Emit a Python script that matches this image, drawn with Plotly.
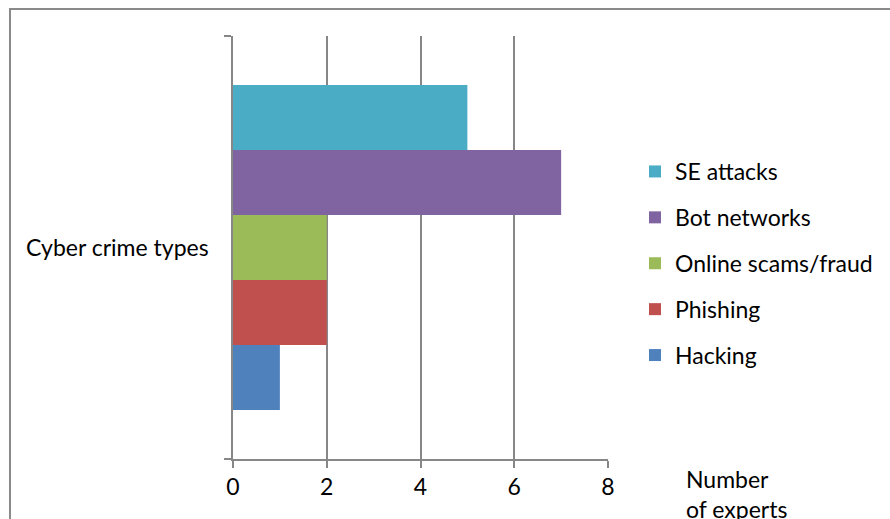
import plotly.graph_objects as go

category = ["Cyber crime types"]
series_names = ["Hacking", "Phishing", "Online scams/fraud", "Bot networks", "SE attacks"]
series_values = [1, 2, 2, 7, 5]
series_colors = ["#4F81BD", "#C0504D", "#9BBB59", "#8064A2", "#4BACC6"]
x_ticks = [0, 2, 4, 6, 8]

W, H = 890, 519
L, R, T, B = 233, 282, 36, 60
pw, ph = W - L - R, H - T - B

def px_x(p):
    return (p - L) / pw

def px_y(p):
    return (H - B - p) / ph

fig = go.Figure()
n = len(series_names)
for i, (name, val, col) in enumerate(zip(series_names, series_values, series_colors)):
    fig.add_trace(go.Bar(
        y=category, x=[val], name=name, orientation="h",
        marker=dict(color=col, line=dict(width=0)),
        legendgroup=name, legendrank=1000 + (n - i),
    ))

font = "Lato, 'Open Sans', sans-serif"
fs = 23
grid = "#878787"
fig.update_layout(
    width=W, height=H,
    margin=dict(l=L, r=R, t=T, b=B),
    paper_bgcolor="white", plot_bgcolor="white",
    barmode="group", bargap=0.232, bargroupgap=0,
    font=dict(family=font, size=fs, color="#000000"),
    showlegend=True,
    legend=dict(
        traceorder="grouped", tracegroupgap=13,
        x=px_x(635), y=px_y(150), xanchor="left", yanchor="top",
        font=dict(family=font, size=fs, color="#000000"),
        bgcolor="rgba(0,0,0,0)",
    ),
    xaxis=dict(
        range=[0, 8], tickvals=x_ticks, ticktext=[str(v) for v in x_ticks],
        showgrid=True, gridcolor=grid, gridwidth=1.5,
        showline=True, linecolor=grid, linewidth=1.5,
        ticks="outside", ticklen=7, tickcolor=grid, tickwidth=1.5,
        zeroline=False, tickfont=dict(family=font, size=fs),
        fixedrange=True,
    ),
    yaxis=dict(
        showline=True, linecolor=grid, linewidth=1.5, mirror=False,
        ticks="outside", ticklen=7, tickcolor=grid, tickwidth=1.5,
        tickson="boundaries", showgrid=False,
        tickfont=dict(family=font, size=fs), ticklabelstandoff=18,
        fixedrange=True,
    ),
    annotations=[dict(
        text="Number<br>of experts", xref="paper", yref="paper",
        x=px_x(684), y=px_y(463), xanchor="left", yanchor="top",
        showarrow=False, align="left", font=dict(family=font, size=fs),
    )],
    shapes=[
        dict(type="line", xref="paper", yref="paper",
             x0=px_x(9), x1=px_x(900), y0=px_y(9), y1=px_y(9),
             line=dict(color="#8a8a8a", width=2)),
        dict(type="line", xref="paper", yref="paper",
             x0=px_x(10), x1=px_x(10), y0=px_y(9), y1=px_y(530),
             line=dict(color="#8a8a8a", width=2)),
    ],
)

fig.write_html("out.html")
